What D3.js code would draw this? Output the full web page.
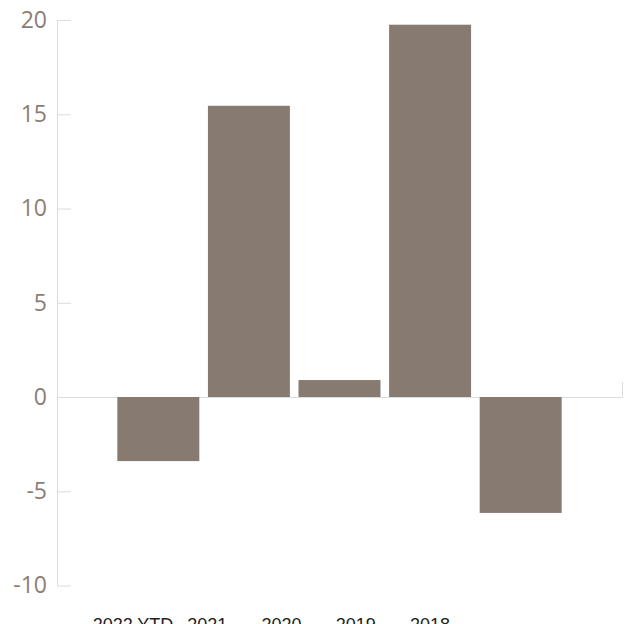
<!DOCTYPE html>
<html>
<head>
<meta charset="utf-8">
<script src="https://cdn.jsdelivr.net/npm/d3@7"></script>
<style>
  body { margin: 0; background: #fff; }
  svg { display: block; }
</style>
</head>
<body>
<svg id="plot" width="629" height="624"></svg>
<script>
let categories = ["2022 YTD", "2021", "2020", "2019", "2018"];
let values = [-3.4, 15.45, 0.9, 19.75, -6.15];
let yTicks = [-10, -5, 0, 5, 10, 15, 20];

let svg = d3.select("#plot")

let plot_left = 57, plot_right = 622, plot_top = 20, plot_bottom = 585.5;
let barColor = "#877a71";
let axisColor = "#dcdcdc";

let x_scale = d3.scaleBand(categories, [plot_left, plot_right])
  .paddingInner(0.095)
  .paddingOuter(0.666)
let y_scale = d3.scaleLinear([-10, 20], [plot_bottom, plot_top])

// labels sit on their own evenly spaced row, not under the bars
let label_scale = d3.scalePoint(categories, [133, 430])

// y axis: line with short ticks pointing into the plot, labels on the left
let gy = svg.append("g")
  .attr("transform", `translate(${plot_left},0)`)
  .call(d3.axisRight(y_scale).tickValues(yTicks).tickSize(14).tickSizeOuter(14).tickFormat(d => String(d)))

gy.selectAll("path, line").attr("stroke", axisColor)
gy.selectAll("text")
  .attr("x", -10)
  .attr("text-anchor", "end")
  .attr("fill", "#8c7d74")
  .attr("font-family", "'Open Sans', sans-serif")
  .attr("font-size", 23)
gy.select(".domain").attr("d", `M0.5,${plot_top}V${plot_bottom}`)

// zero line with small end caps
let gz = svg.append("g")
  .attr("transform", `translate(0,${y_scale(0)})`)
  .call(d3.axisTop(d3.scaleLinear([0, 1], [plot_left, plot_right])).tickValues([]).tickSizeOuter(15))
gz.select(".domain").attr("stroke", axisColor)

svg.append("g")
  .selectAll("rect")
  .data(values)
  .join("rect")
  .attr("x", (d, i) => x_scale(categories[i]))
  .attr("width", x_scale.bandwidth())
  .attr("y", d => y_scale(Math.max(0, d)))
  .attr("height", d => Math.abs(y_scale(d) - y_scale(0)))
  .attr("fill", barColor)

// category labels run off the bottom edge, as in the source image
svg.append("g")
  .selectAll("text")
  .data(categories)
  .join("text")
  .attr("x", d => label_scale(d))
  .attr("y", 631)
  .attr("text-anchor", "middle")
  .attr("fill", "#222")
  .attr("font-family", "'Liberation Sans', Arial, sans-serif")
  .attr("font-size", 18)
  .text(d => d)
</script>
</body>
</html>
